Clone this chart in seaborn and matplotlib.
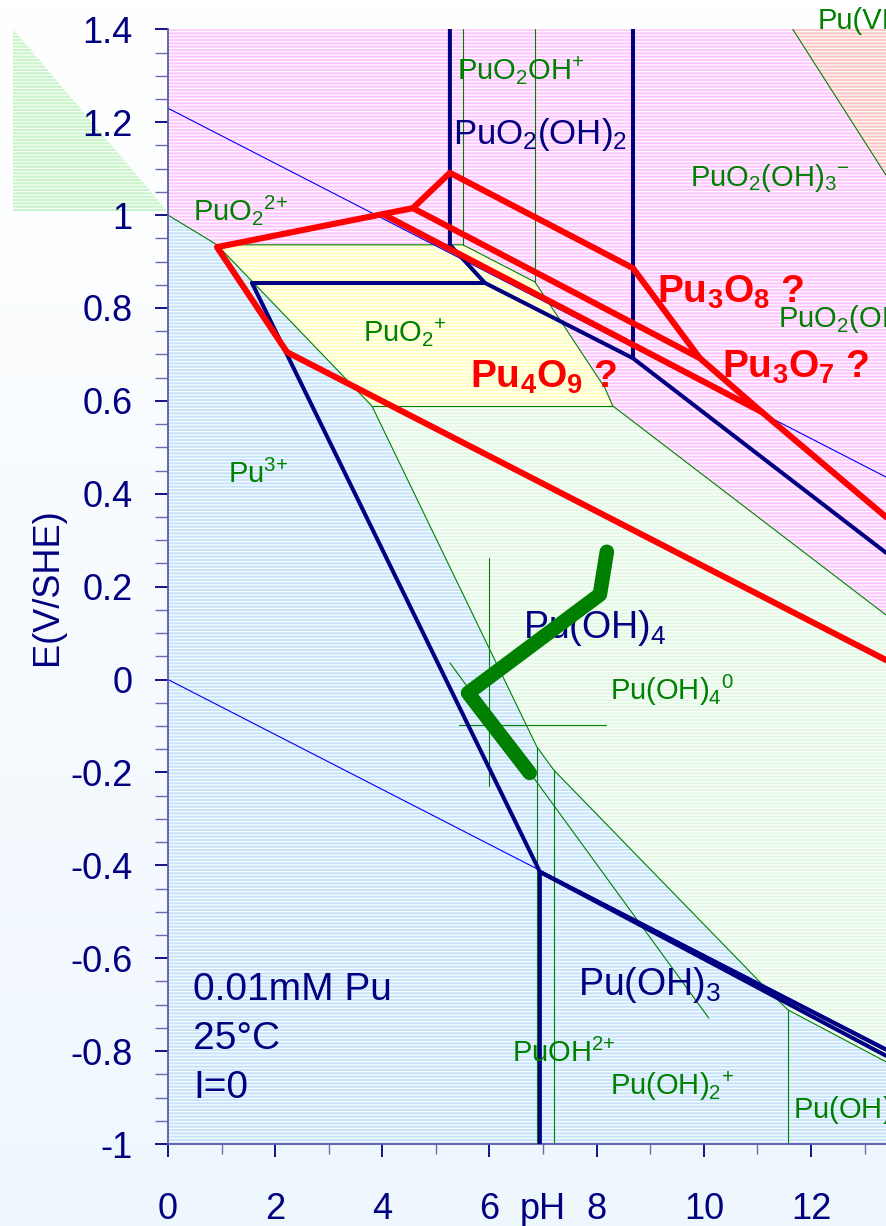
import numpy as np
import pandas as pd
import matplotlib
matplotlib.use("Agg")
import matplotlib.pyplot as plt
import matplotlib.transforms as mtransforms
from matplotlib.patches import Polygon
import seaborn as sns

# ---------------- data (pH, E in V/SHE) ----------------
x_major = [0, 2, 4, 6, 8, 10, 12]
x_labels = ["0", "2", "4", "6", "8", "10", "12"]
x_minor = [1, 3, 5, 7, 9, 11, 13]
y_major = [-1.0, -0.8, -0.6, -0.4, -0.2, 0.0, 0.2, 0.4, 0.6, 0.8, 1.0, 1.2, 1.4]
y_labels = ["-1", "-0.8", "-0.6", "-0.4", "-0.2", "0", "0.2", "0.4", "0.6", "0.8", "1", "1.2", "1.4"]

# predominance regions
pink_ph = [0, 11.66, 13.4, 13.4, 8.302, 8.153, 6.847, 5.504, 0.914, 0]
pink_e = [1.4, 1.4, 1.086, 0.139, 0.589, 0.628, 0.856, 0.936, 0.936, 1.0]
salmon_ph = [11.66, 13.4, 13.4]
salmon_e = [1.4, 1.4, 1.086]
yellow_ph = [0.914, 5.504, 6.847, 8.153, 8.302, 3.806]
yellow_e = [0.936, 0.936, 0.856, 0.628, 0.589, 0.589]
blue_ph = [0, 0.914, 3.806, 6.884, 7.201, 11.138, 11.567, 13.4, 13.4, 0]
blue_e = [1.0, 0.936, 0.589, -0.145, -0.195, -0.662, -0.711, -0.823, -1.0, -1.0]
lgreen_ph = [3.806, 8.302, 13.4, 13.4, 11.567, 11.138, 7.201, 6.884]
lgreen_e = [0.589, 0.589, 0.139, -0.823, -0.711, -0.662, -0.195, -0.145]

# thin green boundaries
green_lines = {
    "g1": ([0, 0.914, 3.806, 6.884, 7.201, 11.138, 11.567, 13.4],
           [1.0, 0.936, 0.589, -0.145, -0.195, -0.662, -0.711, -0.823]),
    "g2": ([0.914, 5.504, 6.847, 8.153, 8.302, 13.4],
           [0.936, 0.936, 0.856, 0.628, 0.589, 0.139]),
    "g3": ([3.806, 8.302], [0.589, 0.589]),
    "g4": ([5.504, 5.504], [1.4, 0.936]),
    "g5": ([6.847, 6.847], [1.4, 0.856]),
    "g6": ([6.884, 6.884], [-0.145, -1.0]),
    "g7": ([7.201, 7.201], [-0.195, -1.0]),
    "g8": ([11.567, 11.567], [-0.711, -1.0]),
    "g9": ([11.66, 13.4], [1.4, 1.086]),
    "g10": ([5.261, 10.093], [0.036, -0.729]),
    "g11": ([5.989, 5.989], [0.262, -0.229]),
    "g12": ([5.429, 8.172], [-0.098, -0.098]),
}
# water stability lines
water_lines = {
    "w1": ([0, 13.4], [1.23, 0.436]),
    "w2": ([0, 13.4], [0.0, -0.793]),
}
# solid-phase boundaries (navy)
navy_lines = {
    "n1": ([5.261, 5.261, 5.914, 8.675, 13.4], [1.4, 0.936, 0.854, 0.692, 0.273]),
    "n2": ([1.567, 5.914], [0.854, 0.854]),
    "n3": ([1.567, 6.94, 6.94], [0.854, -0.414, -1.0]),
    "n4": ([8.675, 8.675], [1.4, 0.692]),
    "n5": ([6.94, 13.4], [-0.414, -0.797]),
    "n6": ([6.94, 13.4], [-0.414, -0.810]),
}
# hypothetical oxides (red)
red_lines = {
    "r1": ([2.22, 0.914, 4.571, 5.261, 8.675, 9.925, 11.082, 13.4],
           [0.705, 0.931, 1.015, 1.091, 0.886, 0.692, 0.576, 0.350]),
    "r2": ([2.22, 13.4], [0.705, 0.042]),
    "r3": ([4.571, 9.925], [1.015, 0.692]),
    "r4": ([4.011, 11.082], [1.002, 0.576]),
}
# measured Eh-pH path (thick green)
path_ph = [8.19, 8.06, 5.60, 6.75]
path_e = [0.275, 0.183, -0.029, -0.201]

green_labels = [
    (0.466, 0.989, r"PuO$_2$$^{2\mathrm{+}}$"),
    (5.392, 1.291, r"PuO$_2$OH$^{+}$"),
    (9.739, 1.063, r"PuO$_2$(OH)$_3$$^{-}$"),
    (11.38, 0.757, r"PuO$_2$(OH)$_4$$^{2\mathrm{-}}$"),
    (3.638, 0.727, r"PuO$_2$$^{+}$"),
    (1.119, 0.423, r"Pu$^{3\mathrm{+}}$"),
    (8.246, -0.044, r"Pu(OH)$_4$$^{0}$"),
    (6.418, -0.824, r"PuOH$^{2\mathrm{+}}$"),
    (8.246, -0.894, r"Pu(OH)$_2$$^{+}$"),
    (11.66, -0.944, r"Pu(OH)$_3$"),
]
top_label = (12.13, 1.401, "Pu(VII)")
navy_labels = [
    (5.317, 1.153, r"PuO$_2$(OH)$_2$", 25),
    (6.62, 0.090, r"Pu(OH)$_4$", 27),
    (7.649, -0.679, r"Pu(OH)$_3$", 27),
]
red_labels = [
    (5.634, 0.628, r"Pu$_4$O$_9$ ?"),
    (9.12, 0.811, r"Pu$_3$O$_8$ ?"),
    (10.34, 0.649, r"Pu$_3$O$_7$ ?"),
]
notes = [(0.466, -0.691, "0.01mM Pu"), (0.466, -0.795, "25°C"), (0.466, -0.900, "I=0")]

# ---------------- style ----------------
sns.set_style("ticks")
plt.rcParams["font.family"] = ["Liberation Sans", "DejaVu Sans"]
plt.rcParams["mathtext.fontset"] = "custom"
plt.rcParams["mathtext.rm"] = "Liberation Sans"
plt.rcParams["mathtext.it"] = "Liberation Sans:italic"
plt.rcParams["mathtext.bf"] = "Liberation Sans:bold"
plt.rcParams["mathtext.default"] = "regular"
plt.rcParams["axes.unicode_minus"] = False
plt.rcParams["hatch.linewidth"] = 0.85
plt.rcParams["hatch.color"] = "white"

NAVY = "#000080"
GREEN = "#008000"
W, H = 886, 1226

fig = plt.figure(figsize=(W / 100, H / 100), dpi=100)

# background gradient
bg = fig.add_axes([0, 0, 1, 1], zorder=-10)
top_c = np.array([1.0, 1.0, 1.0])
bot_c = np.array([0.937, 0.969, 0.996])
t = np.linspace(0, 1, 256)[:, None, None]
grad = top_c * (1 - t) + bot_c * t
bg.imshow(grad, extent=[0, 1, 0, 1], aspect="auto", origin="upper")
bg.add_patch(Polygon([[13 / W, 1 - 29 / H], [13 / W, 1 - 211 / H], [167 / W, 1 - 211 / H]],
                     closed=True, facecolor="#c8f5c8", edgecolor="white", linewidth=0,
                     hatch="-----"))
bg.set_xlim(0, 1)
bg.set_ylim(0, 1)
bg.axis("off")

ax = fig.add_axes([168 / W, 1 - 1144 / H, 1 - 168 / W, (1144 - 29.3) / H])
ax.set_xlim(0, 13.4)
ax.set_ylim(-1.0, 1.4)

for xs, ys, col in [(pink_ph, pink_e, "#ffc6ff"), (salmon_ph, salmon_e, "#ffc6c6"),
                    (yellow_ph, yellow_e, "#ffffc2"), (blue_ph, blue_e, "#c6e4fc"),
                    (lgreen_ph, lgreen_e, "#e2f8e4")]:
    ax.fill(xs, ys, facecolor=col, edgecolor="white", linewidth=0, hatch="-----", zorder=1)


def to_df(d):
    rows = []
    for k, (xs, ys) in d.items():
        for i, (x, y) in enumerate(zip(xs, ys)):
            rows.append({"seg": k, "i": i, "pH": x, "E": y})
    return pd.DataFrame(rows)


sns.lineplot(data=to_df(green_lines), x="pH", y="E", units="seg", estimator=None, sort=False,
             color=GREEN, linewidth=0.8, ax=ax, zorder=2)
sns.lineplot(data=to_df(water_lines), x="pH", y="E", units="seg", estimator=None, sort=False,
             color="#0000ff", linewidth=0.8, ax=ax, zorder=2.5)
sns.lineplot(data=to_df(navy_lines), x="pH", y="E", units="seg", estimator=None, sort=False,
             color=NAVY, linewidth=2.9, ax=ax, zorder=3)
sns.lineplot(data=to_df(red_lines), x="pH", y="E", units="seg", estimator=None, sort=False,
             color="#ff0000", linewidth=4.4, ax=ax, zorder=4)

for x, y, s in green_labels:
    ax.text(x, y, s, color=GREEN, fontsize=21, ha="left", va="baseline", zorder=6, clip_on=True)
ax.text(top_label[0], top_label[1], top_label[2], color=GREEN, fontsize=21, ha="left",
        va="baseline", zorder=6, clip_on=False)
for x, y, s, fs in navy_labels:
    ax.text(x, y, s, color=NAVY, fontsize=fs, ha="left", va="baseline", zorder=6)
for x, y, s in red_labels:
    ax.text(x, y, s, color="#ff0000", fontsize=28, fontweight="bold", ha="left",
            va="baseline", zorder=6)
for x, y, s in notes:
    ax.text(x, y, s, color=NAVY, fontsize=28, ha="left", va="baseline", zorder=6)

path_df = pd.DataFrame({"pH": path_ph, "E": path_e})
sns.lineplot(data=path_df, x="pH", y="E", sort=False, estimator=None, color=GREEN,
             linewidth=10.5, ax=ax, zorder=7, solid_capstyle="round", solid_joinstyle="round")

# axes styling
ax.set_xticks(x_major)
ax.set_xticklabels(x_labels)
ax.set_xticks(x_minor, minor=True)
ax.set_yticks(y_major)
ax.set_yticklabels(y_labels)
ax.set_yticks(np.round(np.arange(-1.0, 1.401, 0.05), 2), minor=True)
ax.set_xlabel("")
ax.set_ylabel("")
for side in ["top", "right"]:
    ax.spines[side].set_visible(False)
for side in ["left", "bottom"]:
    ax.spines[side].set_color("#5a5aa8")
    ax.spines[side].set_linewidth(1.3)
ax.spines["left"].set_zorder(8)
ax.tick_params(axis="y", which="major", direction="out", length=9.4, width=1.3, color=NAVY,
               labelsize=26, labelcolor=NAVY, pad=16)
ax.tick_params(axis="y", which="minor", direction="out", length=9.4, width=1.0, color="#6a6ab0")
ax.tick_params(axis="x", which="major", direction="out", length=9.4, width=1.3, color=NAVY,
               labelsize=26, labelcolor=NAVY, pad=25)
ax.tick_params(axis="x", which="minor", direction="out", length=7, width=1.0, color="#6a6ab0")

ph_tr = mtransforms.offset_copy(ax.get_xaxis_transform(), fig=fig, y=-(9.4 + 25), units="points")
ax.text(7.0, 0, "pH", transform=ph_tr, color=NAVY, fontsize=26, ha="center", va="top",
        clip_on=False)
fig.text(47 / W, 1 - 587 / H, "E(V/SHE)", rotation=90, color=NAVY, fontsize=26,
         ha="center", va="center")

fig.savefig("out.png", dpi=100)
